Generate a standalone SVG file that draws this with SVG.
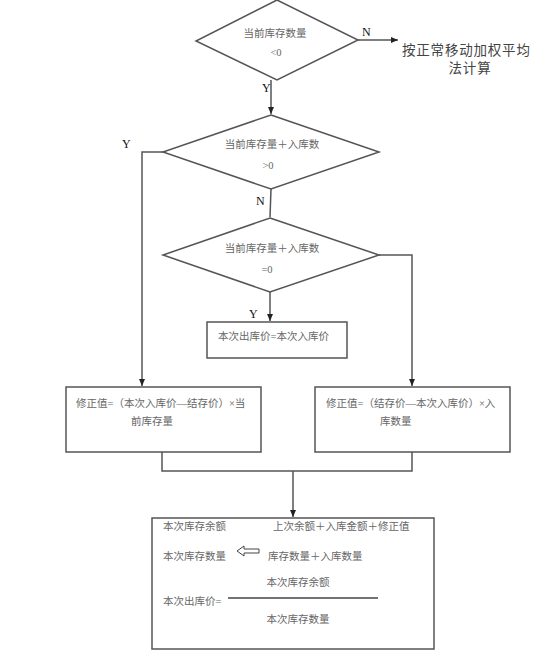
<svg xmlns="http://www.w3.org/2000/svg" width="556" height="658" viewBox="0 0 556 658">
<defs>
<marker id="ah" markerWidth="8" markerHeight="8" refX="7" refY="4" orient="auto" markerUnits="userSpaceOnUse">
<path d="M0,1 L7,4 L0,7 Z" fill="#222"/>
</marker>
<style>
.shape{fill:#fff;stroke:#555;stroke-width:1.5}
.ln{fill:none;stroke:#555;stroke-width:1.5}
.t{font-family:"Liberation Serif","Noto Sans CJK SC",serif;font-size:10.5px;fill:#666}
.big{font-family:"Liberation Serif","Noto Sans CJK SC",serif;font-size:13.5px;fill:#444}
.yn{font-family:"Liberation Serif",serif;font-size:12px;fill:#111}
.m{text-anchor:middle}
</style>
</defs>
<rect width="556" height="658" fill="#fff"/>
<g id="connectors">
<path class="ln" d="M358,40 L398,40" marker-end="url(#ah)"/>
<path class="ln" d="M271,80 L271,114" marker-end="url(#ah)"/>
<path class="ln" d="M163,152 L142,152 L142,386" marker-end="url(#ah)"/>
<path class="ln" d="M271,189 L270,217"/>
<path class="ln" d="M379,255 L412,255 L412,386" marker-end="url(#ah)"/>
<path class="ln" d="M270,292 L270,321" marker-end="url(#ah)"/>
<path class="ln" d="M162,452 L162,471 L412,471 L412,452"/>
<path class="ln" d="M293,471 L293,517" marker-end="url(#ah)"/>
<text class="yn" x="362" y="36">N</text>
<text class="yn" x="262" y="92">Y</text>
<text class="yn" x="122" y="148">Y</text>
<text class="yn" x="256" y="205">N</text>
<text class="yn" x="249" y="318">Y</text>
</g>
<g id="d1">
<polygon class="shape" points="277,0 358,40 277,80 196,41"/>
<text class="t m" x="275" y="37">当前库存数量</text>
<text class="t m" x="276" y="56">&lt;0</text>
</g>
<g id="out1">
<text class="big" x="402" y="55" letter-spacing="0.8">按正常移动加权平均</text>
<text class="big m" x="470" y="73" letter-spacing="0.8">法计算</text>
</g>
<g id="d2">
<polygon class="shape" points="271,115 379,152 271,189 163,152"/>
<text class="t m" x="272" y="148">当前库存量＋入库数</text>
<text class="t m" x="268" y="169">&gt;0</text>
</g>
<g id="d3">
<polygon class="shape" points="270,218 379,255 270,292 163,255"/>
<text class="t m" x="272" y="252">当前库存量＋入库数</text>
<text class="t m" x="267" y="273">=0</text>
</g>
<g id="b_mid">
<rect class="shape" x="207" y="322" width="140" height="36"/>
<text class="t" x="218" y="340">本次出库价=本次入库价</text>
</g>
<g id="b_left">
<rect class="shape" x="66" y="387" width="195" height="65"/>
<text class="t" x="76" y="407">修正值=（本次入库价—结存价）×当</text>
<text class="t" x="131" y="425">前库存量</text>
</g>
<g id="b_right">
<rect class="shape" x="315" y="387" width="195" height="65"/>
<text class="t" x="326" y="407">修正值=（结存价—本次入库价）×入</text>
<text class="t" x="380" y="425">库数量</text>
</g>
<g id="b_bottom">
<rect class="shape" x="152" y="518" width="282" height="131"/>
<text class="t" x="163" y="530">本次库存余额</text>
<text class="t" x="273" y="530">上次余额＋入库金额＋修正值</text>
<text class="t" x="163" y="560">本次库存数量</text>
<path d="M237,551 L244,546 L244,549 L259,549 L259,553 L244,553 L244,556 Z" fill="#fff" stroke="#444" stroke-width="1"/>
<text class="t" x="268" y="560">库存数量＋入库数量</text>
<text class="t m" x="298" y="586">本次库存余额</text>
<text class="t" x="163" y="605">本次出库价=</text>
<line x1="228" y1="598" x2="378" y2="598" stroke="#444" stroke-width="1.5"/>
<text class="t m" x="298" y="623">本次库存数量</text>
</g>
</svg>
